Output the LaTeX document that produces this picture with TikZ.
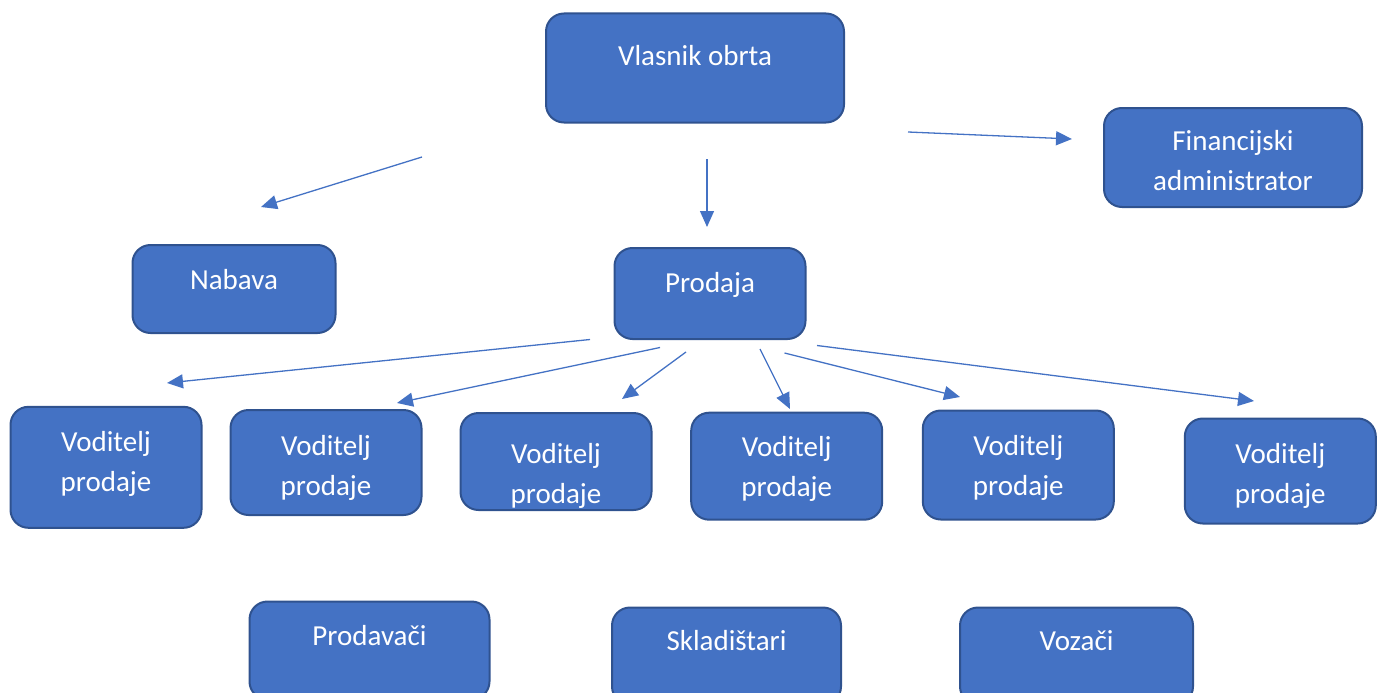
\documentclass[tikz,border=0pt]{standalone}
\usepackage{fontspec}
\setmainfont{Carlito}
\usetikzlibrary{arrows.meta}
\definecolor{boxblue}{HTML}{4472C4}
\definecolor{boxedge}{HTML}{2F528F}

\begin{document}
\begin{tikzpicture}[x=1pt, y=-1pt, >={Triangle[length=16pt,width=14pt]}]
        \tikzstyle{role}=[rectangle, rounded corners=18pt, fill=boxblue, draw=boxedge, line width=2pt, text=white, align=center, font=\fontsize{29}{40}\selectfont, inner sep=2pt, text height=0pt, text depth=0pt, minimum width=191pt]
        \tikzstyle{link}=[->, color=boxblue, line width=1.3pt]
        \useasboundingbox (0,0) rectangle (1384,693);
        \clip (0,0) rectangle (1384,693);
        \node[role, minimum width=298pt, minimum height=109pt, text depth=4pt]     (Owner)   at (695,68)      {Vlasnik obrta};
        \node[role, minimum width=258pt, minimum height=99pt,  text height=66pt]   (Finance) at (1233,157.5)  {Financijski\\administrator};
        \node[role, minimum width=203pt, minimum height=88pt]                      (Buying)  at (234,289)     {Nabava};
        \node[role, minimum height=91pt,  text depth=3pt]    (Sales)   at (710,293.5)   {Prodaja};
        \node[role, minimum height=121pt, text height=49pt]  (Lead_1)  at (106,467.3)   {Voditelj\\prodaje};
        \node[role, minimum height=105pt, text height=65pt]  (Lead_2)  at (326,462.5)   {Voditelj\\prodaje};
        \node[role, minimum height=97pt,  text height=83pt]  (Lead_3)  at (556,461.5)   {Voditelj\\prodaje};
        \node[role, minimum height=107pt, text height=61pt]  (Lead_4)  at (786.7,466.2) {Voditelj\\prodaje};
        \node[role, minimum height=109pt, text height=60pt]  (Lead_5)  at (1018.3,465)  {Voditelj\\prodaje};
        \node[role, minimum height=105pt, text height=65pt]  (Lead_6)  at (1280.3,471)  {Voditelj\\prodaje};
        \node[role, minimum width=240pt, minimum height=98pt, text depth=11pt] (Sellers) at (369.5,650.5) {Prodavači};
        \node[role, minimum width=229pt, minimum height=97pt, text depth=12pt] (Store)   at (726.5,656)   {Skladištari};
        \node[role, minimum width=233pt, minimum height=97pt, text depth=12pt] (Drivers) at (1076.5,656)  {Vozači};
        \coordinate (O_l) at (422,157);   \coordinate (B_in) at (261,207);
        \coordinate (O_m) at (707,159);   \coordinate (S_in) at (707,227);
        \coordinate (O_r) at (908,132);   \coordinate (F_in) at (1072,139);
        \coordinate (S_1) at (590,339.5); \coordinate (L_1) at (167,383);
        \coordinate (S_2) at (660,347.5); \coordinate (L_2) at (397,403);
        \coordinate (S_3) at (686,352);   \coordinate (L_3) at (622,399);
        \coordinate (S_4) at (760,349);   \coordinate (L_4) at (790,409);
        \coordinate (S_5) at (784.5,353); \coordinate (L_5) at (960,397);
        \coordinate (S_6) at (817,345.5); \coordinate (L_6) at (1254,401);
        \path
        (O_l) edge[link] (B_in)
        (O_m) edge[link] (S_in)
        (O_r) edge[link] (F_in)
        (S_1) edge[link] (L_1)
        (S_2) edge[link] (L_2)
        (S_3) edge[link] (L_3)
        (S_4) edge[link] (L_4)
        (S_5) edge[link] (L_5)
        (S_6) edge[link] (L_6);
\end{tikzpicture}
\end{document}
